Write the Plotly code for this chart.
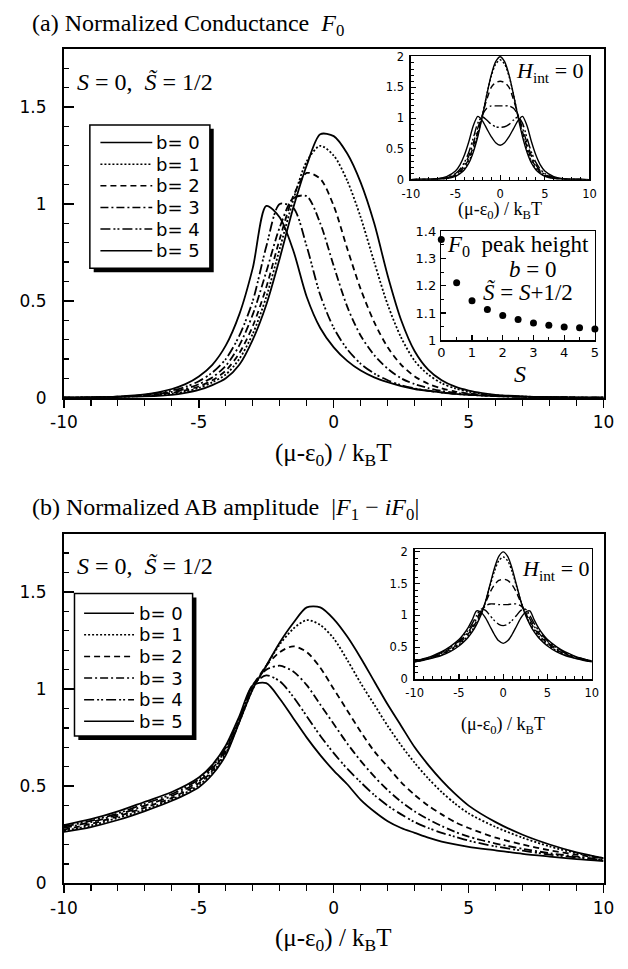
import plotly.graph_objects as go

W, H = 628, 969

# ---------------- data ----------------
B_LABELS = ["b= 0", "b= 1", "b= 2", "b= 3", "b= 4", "b= 5"]

X_A = [-10, -9, -8, -7, -6, -5.5, -5, -4.5, -4, -3.5, -3, -2.5, -2, -1.5, -1, -0.5, 0,
       0.5, 1, 1.5, 2, 2.5, 3, 3.5, 4, 4.5, 5, 5.5, 6, 7, 8, 9, 10]
F0_B0 = [0.0, 0.001, 0.003, 0.007, 0.015, 0.025, 0.04, 0.065, 0.1, 0.17, 0.3, 0.48, 0.72, 0.98, 1.2, 1.36, 1.35,
         1.26, 1.11, 0.9, 0.63, 0.4, 0.24, 0.145, 0.09, 0.057, 0.037, 0.024, 0.015, 0.007, 0.003, 0.001, 0.0]
F0_B1 = [0.0, 0.001, 0.004, 0.009, 0.02, 0.032, 0.05, 0.08, 0.12, 0.2, 0.33, 0.52, 0.77, 1.02, 1.22, 1.30, 1.25,
         1.12, 0.93, 0.7, 0.48, 0.31, 0.19, 0.12, 0.075, 0.048, 0.031, 0.02, 0.013, 0.006, 0.003, 0.001, 0.0]
F0_B2 = [0.0, 0.001, 0.004, 0.011, 0.025, 0.038, 0.058, 0.09, 0.14, 0.23, 0.37, 0.57, 0.82, 1.04, 1.16, 1.13, 0.99,
         0.77, 0.56, 0.39, 0.26, 0.17, 0.11, 0.072, 0.048, 0.032, 0.022, 0.015, 0.01, 0.005, 0.002, 0.001, 0.0]
F0_B3 = [0.0, 0.002, 0.005, 0.013, 0.03, 0.045, 0.07, 0.105, 0.165, 0.27, 0.43, 0.65, 0.88, 1.03, 1.04, 0.9, 0.68,
         0.47, 0.32, 0.22, 0.15, 0.1, 0.07, 0.05, 0.035, 0.025, 0.018, 0.013, 0.009, 0.004, 0.002, 0.001, 0.0]
F0_B4 = [0.0, 0.002, 0.005, 0.015, 0.037, 0.056, 0.085, 0.13, 0.2, 0.32, 0.5, 0.78, 1.0, 0.98, 0.78, 0.53, 0.36,
         0.25, 0.175, 0.125, 0.09, 0.065, 0.048, 0.036, 0.027, 0.02, 0.015, 0.011, 0.008, 0.004, 0.002, 0.001, 0.0]
F0_B5 = [0.0, 0.002, 0.006, 0.017, 0.045, 0.07, 0.11, 0.17, 0.27, 0.43, 0.67, 0.99, 0.93, 0.76, 0.52, 0.36, 0.26,
         0.19, 0.14, 0.105, 0.08, 0.06, 0.045, 0.035, 0.027, 0.02, 0.015, 0.011, 0.008, 0.004, 0.002, 0.001, 0.0]

X_B = [-10, -9, -8, -7, -6, -5, -4.5, -4, -3.5, -3, -2.5, -2, -1.5, -1, -0.5, 0,
       0.5, 1, 1.5, 2, 2.5, 3, 3.5, 4, 4.5, 5, 6, 7, 8, 9, 10]
AB_B0 = [0.265, 0.29, 0.326, 0.372, 0.425, 0.495, 0.56, 0.66, 0.83, 1.0, 1.12, 1.24, 1.34, 1.42, 1.42, 1.36,
         1.27, 1.16, 1.04, 0.92, 0.81, 0.70, 0.61, 0.53, 0.46, 0.40, 0.315, 0.25, 0.2, 0.16, 0.13]
AB_B1 = [0.27, 0.298, 0.337, 0.38, 0.432, 0.505, 0.57, 0.67, 0.83, 1.0, 1.12, 1.23, 1.31, 1.355, 1.33, 1.26,
         1.15, 1.03, 0.92, 0.81, 0.71, 0.62, 0.54, 0.47, 0.41, 0.36, 0.29, 0.235, 0.19, 0.155, 0.13]
AB_B2 = [0.277, 0.306, 0.345, 0.39, 0.44, 0.515, 0.58, 0.68, 0.835, 1.01, 1.12, 1.19, 1.22, 1.19, 1.11, 1.0,
         0.89, 0.78, 0.68, 0.6, 0.52, 0.455, 0.4, 0.355, 0.315, 0.285, 0.235, 0.2, 0.17, 0.148, 0.128]
AB_B3 = [0.285, 0.315, 0.353, 0.40, 0.45, 0.525, 0.59, 0.69, 0.84, 1.02, 1.10, 1.12, 1.09, 1.02, 0.92, 0.82,
         0.72, 0.63, 0.55, 0.48, 0.42, 0.37, 0.33, 0.295, 0.265, 0.24, 0.205, 0.178, 0.155, 0.138, 0.122]
AB_B4 = [0.292, 0.322, 0.36, 0.41, 0.46, 0.535, 0.6, 0.70, 0.85, 1.02, 1.07, 1.04, 0.96, 0.86, 0.76, 0.67,
         0.59, 0.52, 0.455, 0.40, 0.355, 0.315, 0.285, 0.26, 0.24, 0.22, 0.19, 0.168, 0.148, 0.133, 0.12]
AB_B5 = [0.30, 0.33, 0.37, 0.42, 0.47, 0.545, 0.61, 0.71, 0.86, 1.02, 1.03, 0.95, 0.85, 0.75, 0.66, 0.58,
         0.51, 0.43, 0.37, 0.32, 0.285, 0.26, 0.235, 0.215, 0.2, 0.188, 0.17, 0.152, 0.138, 0.125, 0.115]

X_IN = [-10, -9, -8, -7, -6, -5, -4.5, -4, -3.5, -3, -2.5, -2, -1.5, -1, -0.5, 0,
        0.5, 1, 1.5, 2, 2.5, 3, 3.5, 4, 4.5, 5, 6, 7, 8, 9, 10]
INA_B0 = [0.0, 0.001, 0.002, 0.006, 0.018, 0.055, 0.095, 0.16, 0.27, 0.45, 0.7, 1.02, 1.38, 1.7, 1.92, 2.0,
          1.92, 1.7, 1.38, 1.02, 0.7, 0.45, 0.27, 0.16, 0.095, 0.055, 0.018, 0.006, 0.002, 0.001, 0.0]
INA_B1 = [0.0, 0.001, 0.002, 0.007, 0.02, 0.06, 0.105, 0.18, 0.3, 0.49, 0.74, 1.04, 1.38, 1.68, 1.88, 1.95,
          1.88, 1.68, 1.38, 1.04, 0.74, 0.49, 0.3, 0.18, 0.105, 0.06, 0.02, 0.007, 0.002, 0.001, 0.0]
INA_B2 = [0.0, 0.001, 0.003, 0.008, 0.025, 0.075, 0.125, 0.21, 0.34, 0.54, 0.78, 1.05, 1.3, 1.5, 1.58, 1.6,
          1.58, 1.5, 1.3, 1.05, 0.78, 0.54, 0.34, 0.21, 0.125, 0.075, 0.025, 0.008, 0.003, 0.001, 0.0]
INA_B3 = [0.0, 0.001, 0.003, 0.01, 0.03, 0.085, 0.145, 0.24, 0.39, 0.6, 0.84, 1.05, 1.16, 1.2, 1.2, 1.2,
          1.2, 1.2, 1.16, 1.05, 0.84, 0.6, 0.39, 0.24, 0.145, 0.085, 0.03, 0.01, 0.003, 0.001, 0.0]
INA_B4 = [0.0, 0.001, 0.004, 0.012, 0.035, 0.1, 0.17, 0.28, 0.45, 0.68, 0.92, 1.02, 0.97, 0.9, 0.86, 0.85,
          0.86, 0.9, 0.97, 1.02, 0.92, 0.68, 0.45, 0.28, 0.17, 0.1, 0.035, 0.012, 0.004, 0.001, 0.0]
INA_B5 = [0.0, 0.002, 0.006, 0.017, 0.05, 0.14, 0.24, 0.4, 0.62, 0.88, 1.03, 0.96, 0.83, 0.7, 0.6, 0.56,
          0.6, 0.7, 0.83, 0.96, 1.03, 0.88, 0.62, 0.4, 0.24, 0.14, 0.05, 0.017, 0.006, 0.002, 0.0]

INB_B0 = [0.27, 0.295, 0.33, 0.37, 0.43, 0.52, 0.58, 0.65, 0.74, 0.86, 1.01, 1.22, 1.48, 1.74, 1.93, 2.0,
          1.93, 1.74, 1.48, 1.22, 1.01, 0.86, 0.74, 0.65, 0.58, 0.52, 0.43, 0.37, 0.33, 0.295, 0.27]
INB_B1 = [0.272, 0.3, 0.335, 0.38, 0.445, 0.54, 0.6, 0.675, 0.77, 0.88, 1.03, 1.22, 1.46, 1.69, 1.86, 1.92,
          1.86, 1.69, 1.46, 1.22, 1.03, 0.88, 0.77, 0.675, 0.6, 0.54, 0.445, 0.38, 0.335, 0.3, 0.272]
INB_B2 = [0.275, 0.305, 0.34, 0.39, 0.46, 0.56, 0.625, 0.7, 0.8, 0.91, 1.05, 1.2, 1.36, 1.48, 1.55, 1.57,
          1.55, 1.48, 1.36, 1.2, 1.05, 0.91, 0.8, 0.7, 0.625, 0.56, 0.46, 0.39, 0.34, 0.305, 0.275]
INB_B3 = [0.278, 0.31, 0.35, 0.405, 0.48, 0.58, 0.65, 0.73, 0.83, 0.95, 1.07, 1.15, 1.18, 1.18, 1.17, 1.17,
          1.17, 1.18, 1.18, 1.15, 1.07, 0.95, 0.83, 0.73, 0.65, 0.58, 0.48, 0.405, 0.35, 0.31, 0.278]
INB_B4 = [0.28, 0.315, 0.357, 0.415, 0.495, 0.6, 0.675, 0.76, 0.87, 1.0, 1.1, 1.08, 1.0, 0.92, 0.86, 0.84,
          0.86, 0.92, 1.0, 1.08, 1.1, 1.0, 0.87, 0.76, 0.675, 0.6, 0.495, 0.415, 0.357, 0.315, 0.28]
INB_B5 = [0.285, 0.32, 0.365, 0.425, 0.51, 0.62, 0.7, 0.8, 0.93, 1.07, 1.05, 0.96, 0.83, 0.7, 0.6, 0.56,
          0.6, 0.7, 0.83, 0.96, 1.05, 1.07, 0.93, 0.8, 0.7, 0.62, 0.51, 0.425, 0.365, 0.32, 0.285]

S_VALUES = [0, 0.5, 1, 1.5, 2, 2.5, 3, 3.5, 4, 4.5, 5]
PEAK_HEIGHT = [1.370, 1.211, 1.145, 1.113, 1.091, 1.076, 1.064, 1.055, 1.049, 1.046, 1.042]

MAIN_XTICKS = [-10, -5, 0, 5, 10]
MAIN_XTICKTEXT = ["-10", "-5", "0", "5", "10"]
MAIN_YTICKS = [0, 0.5, 1, 1.5]
MAIN_YTICKTEXT = ["0", "0.5", "1", "1.5"]
INSET_YTICKS = [0, 0.5, 1, 1.5, 2]
INSET_YTICKTEXT = ["0", "0.5", "1", "1.5", "2"]
PEAK_YTICKS = [1, 1.1, 1.2, 1.3, 1.4]
PEAK_YTICKTEXT = ["1", "1.1", "1.2", "1.3", "1.4"]
PEAK_XTICKS = [0, 1, 2, 3, 4, 5]
PEAK_XTICKTEXT = ["0", "1", "2", "3", "4", "5"]

# ---------------- styling ----------------
DASHES = ["solid", "2px,2px", "6px,4px", "8px,3px,2px,3px", "10px,3px,2px,2px,2px,3px", "solid"]
SERIF = "Liberation Serif"
SANS = "DejaVu Sans"


def px(x):
    return x / W


def py(y):
    return 1 - y / H


fig = go.Figure()


def add_family(xs, ys_list, xa, ya, width):
    for ys, d in zip(ys_list, DASHES):
        fig.add_trace(go.Scatter(
            x=xs, y=ys, xaxis=xa, yaxis=ya, mode="lines",
            line=dict(color="black", width=width, dash=d, shape="spline", smoothing=0.8),
            showlegend=False, hoverinfo="skip"))


add_family(X_A, [F0_B0, F0_B1, F0_B2, F0_B3, F0_B4, F0_B5], "x", "y", 1.8)
add_family(X_B, [AB_B0, AB_B1, AB_B2, AB_B3, AB_B4, AB_B5], "x2", "y2", 1.8)
add_family(X_IN, [INA_B0, INA_B1, INA_B2, INA_B3, INA_B4, INA_B5], "x3", "y3", 1.4)
fig.add_trace(go.Scatter(x=S_VALUES, y=PEAK_HEIGHT, xaxis="x4", yaxis="y4", mode="markers",
                         marker=dict(color="black", size=7), cliponaxis=False,
                         showlegend=False, hoverinfo="skip"))
add_family(X_IN, [INB_B0, INB_B1, INB_B2, INB_B3, INB_B4, INB_B5], "x5", "y5", 1.4)


def main_x(anchor, domain):
    return dict(domain=domain, anchor=anchor, range=[-10, 10], showline=True, linecolor="black",
                linewidth=2, mirror=True, ticks="outside", ticklen=8, tickwidth=1.5, tickcolor="black",
                tickvals=MAIN_XTICKS, ticktext=MAIN_XTICKTEXT,
                tickfont=dict(family=SANS, size=17, color="black"),
                minor=dict(dtick=1, tick0=0, ticks="outside", ticklen=6, tickwidth=1.2, tickcolor="black"),
                showgrid=False, zeroline=False, fixedrange=True)


def main_y(anchor, domain):
    return dict(domain=domain, anchor=anchor, range=[0, 1.8], showline=True, linecolor="black",
                linewidth=2, mirror=True, ticks="inside", ticklen=10, tickwidth=1.5, tickcolor="black",
                tickvals=MAIN_YTICKS, ticktext=MAIN_YTICKTEXT, ticklabelstandoff=12,
                tickfont=dict(family=SANS, size=17, color="black"),
                minor=dict(dtick=0.1, tick0=0, ticks="inside", ticklen=5, tickwidth=1.2, tickcolor="black"),
                showgrid=False, zeroline=False, fixedrange=True)


def inset_axis(anchor, domain, rng, tv, tt, mdt, size=12, standoff=1):
    return dict(domain=domain, anchor=anchor, range=rng, showline=True, linecolor="black",
                linewidth=1.5, mirror=True, ticks="inside", ticklen=5, tickwidth=1.2, tickcolor="black",
                tickvals=tv, ticktext=tt, ticklabelstandoff=standoff,
                tickfont=dict(family=SANS, size=size, color="black"),
                minor=dict(dtick=mdt, tick0=0, ticks="inside", ticklen=3, tickwidth=1, tickcolor="black"),
                showgrid=False, zeroline=False, fixedrange=True)


MAIN_XDOM = [px(52), px(614)]
fig.update_layout(
    width=W, height=H, autosize=False, margin=dict(l=0, r=0, t=0, b=0),
    paper_bgcolor="white", plot_bgcolor="white", showlegend=False,
    xaxis=main_x("y", MAIN_XDOM),
    yaxis=main_y("x", [py(397.7), py(42.7)]),
    xaxis2=main_x("y2", MAIN_XDOM),
    yaxis2=main_y("x2", [py(892), py(536)]),
    xaxis3=inset_axis("y3", [px(413.3), px(599.3)], [-10, 10], MAIN_XTICKS, MAIN_XTICKTEXT, 1, 11.5, 3),
    yaxis3=inset_axis("x3", [py(175.7), py(50)], [0, 2.01], INSET_YTICKS, INSET_YTICKTEXT, 0.1, 11.5, 3),
    xaxis4=inset_axis("y4", [px(445), px(605)], [0, 5], PEAK_XTICKS, PEAK_XTICKTEXT, 0.5, 13, 0),
    yaxis4=inset_axis("x4", [py(339.3), py(228.3)], [1, 1.4], PEAK_YTICKS, PEAK_YTICKTEXT, 0.05, 13),
    xaxis5=inset_axis("y5", [px(417.3), px(601.7)], [-10, 10], MAIN_XTICKS, MAIN_XTICKTEXT, 1, 11.5, 3),
    yaxis5=inset_axis("x5", [py(684), py(552)], [0, 2.04], INSET_YTICKS, INSET_YTICKTEXT, 0.1, 11.5, 3),
)


def ann(x, y, text, size, xanchor="center", family=SERIF):
    fig.add_annotation(x=px(x), y=py(y), xref="paper", yref="paper", text=text, showarrow=False,
                       xanchor=xanchor, yanchor="middle",
                       font=dict(family=family, size=size, color="black"))


AXIS_TITLE = "(\u03bc-\u03b5<sub>0</sub>) / k<sub>B</sub>T"
ann(17, 18, "(a) Normalized Conductance  <i>F</i><sub>0</sub>", 24, "left")
ann(17, 511, "(b) Normalized AB amplitude  |<i>F</i><sub>1</sub> \u2212 <i>iF</i><sub>0</sub>|", 24, "left")
ann(64, 76, "<i>S</i> = 0,  <i>S\u0303</i> = 1/2", 24, "left")
ann(64, 569, "<i>S</i> = 0,  <i>S\u0303</i> = 1/2", 24, "left")
ann(333, 455, AXIS_TITLE, 25)
ann(333, 949, AXIS_TITLE, 25)
ann(506, 207, AXIS_TITLE, 18)
ann(509, 731, AXIS_TITLE, 18)
ann(558, 66, "<i>H</i><sub>int</sub> = 0", 22)
ann(564, 573, "<i>H</i><sub>int</sub> = 0", 22)
ann(449, 243, "<i>F</i><sub>0</sub>  peak height", 23, "left")
ann(540, 267, "<i>b</i> = 0", 23)
ann(535, 290, "<i>S\u0303</i> = <i>S</i>+1/2", 23)
ann(527, 374, "<i>S</i>", 24)


def legend_box(left, top, right, bottom, rows, sx0, sx1, tx):
    fig.add_shape(type="rect", xref="paper", yref="paper",
                  x0=px(left + 4), x1=px(right + 4), y0=py(bottom + 4), y1=py(top + 4),
                  fillcolor="black", line=dict(width=0), layer="above")
    fig.add_shape(type="rect", xref="paper", yref="paper",
                  x0=px(left), x1=px(right), y0=py(bottom), y1=py(top),
                  fillcolor="white", line=dict(color="black", width=1.5), layer="above")
    for yy, d, lab in zip(rows, DASHES, B_LABELS):
        fig.add_shape(type="line", xref="paper", yref="paper", x0=px(sx0), x1=px(sx1),
                      y0=py(yy), y1=py(yy), line=dict(color="black", width=1.5, dash=d), layer="above")
        ann(tx, yy, lab, 18, "left", SANS)


legend_box(79, 120, 204, 266, [138, 160, 182, 204, 226, 248], 90, 144, 146)
legend_box(63, 597, 186, 742, [617, 639, 661, 683, 705, 727], 73, 125, 128)

fig.write_html("out.html", config={"displayModeBar": False, "staticPlot": True},
               post_script="document.body.style.margin='0';document.body.style.overflow='hidden';")
